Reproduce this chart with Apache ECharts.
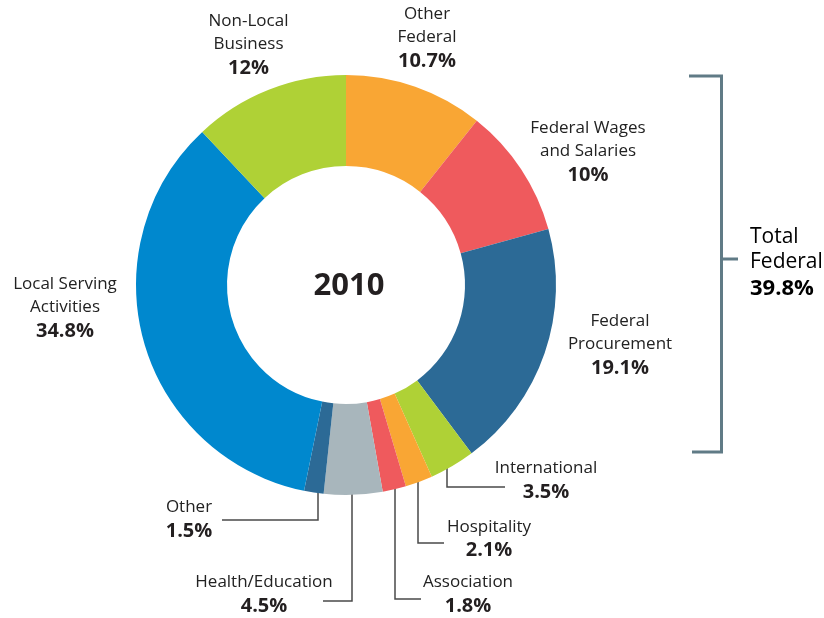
<!DOCTYPE html>
<html>
<head>
<meta charset="utf-8">
<script src="https://cdn.jsdelivr.net/npm/echarts@6/dist/echarts.min.js"></script>
<style>
  html, body { margin: 0; padding: 0; background: #fff; }
  #chart { width: 824px; height: 618px; }
</style>
</head>
<body>
<div id="chart"></div>
<script>
// categories clockwise from 12 o'clock
var names = [
  "Other\nFederal",
  "Federal Wages\nand Salaries",
  "Federal\nProcurement",
  "International",
  "Hospitality",
  "Association",
  "Health/Education",
  "Other",
  "Local Serving\nActivities",
  "Non-Local\nBusiness"
];
var shares = [10.7, 10, 19.1, 3.5, 2.1, 1.8, 4.5, 1.5, 34.8, 12];
var colors = ["#F9A634", "#EF5A5D", "#2C6A96", "#AFD136", "#F9A634", "#EF5A5D", "#A8B6BC", "#2C6A96", "#0088CE", "#AFD136"];
var yearLabel = "2010";
var totalName = ["Total", "Federal"];
var totalShare = 39.8;

// label placement (centre x, centre y) and leader lines, by slice index
var labelPos = [
  [427, 37.5], [588, 151.5], [620, 344.5], [546, 480.5], [489, 539],
  [468, 594.5], [264, 594.5], [189, 519.5], [65, 307.5], [248.5, 44.5]
];
var leaders = {
  3: [[447, 455], [447, 487], [505, 487]],
  4: [[418, 467], [418, 543], [444, 543]],
  5: [[395, 477], [395, 599], [421, 599]],
  6: [[352, 479], [352, 601], [323, 601]],
  7: [[318, 477], [318, 520], [222, 520]]
};

var chartDom = document.getElementById("chart");
var myChart = echarts.init(chartDom);
var font = "'Open Sans', 'Liberation Sans', sans-serif";

var data = shares.map(function (v, i) {
  return {
    value: v,
    name: names[i],
    itemStyle: { color: colors[i] },
    labelLine: { show: !!leaders[i] }
  };
});

var option = {
  animation: false,
  backgroundColor: "#fff",
  graphic: [
    {
      type: "text",
      style: {
        x: 349,
        y: 286,
        text: yearLabel,
        textAlign: "center",
        textVerticalAlign: "middle",
        font: "bold 31px " + font,
        fill: "#231F20"
      }
    },
    {
      type: "polyline",
      shape: { points: [[689, 76], [721.5, 76], [721.5, 452], [692, 452]] },
      style: { stroke: "#607B86", lineWidth: 3, fill: null }
    },
    {
      type: "line",
      shape: { x1: 721.5, y1: 259, x2: 738, y2: 259 },
      style: { stroke: "#607B86", lineWidth: 3 }
    },
    {
      type: "text",
      left: 750,
      top: 227,
      style: {
        text: "{n|" + totalName[0] + "}\n{n|" + totalName[1] + "}\n{v|" + totalShare + "%}",
        rich: {
          n: { fontSize: 21, fontFamily: font, lineHeight: 25, color: "#222" },
          v: { fontSize: 22, fontFamily: font, fontWeight: "bold", lineHeight: 27, color: "#231F20" }
        }
      }
    }
  ],
  series: [
    {
      type: "pie",
      center: [346, 285],
      radius: [119, 210],
      startAngle: 90,
      clockwise: true,
      avoidLabelOverlap: false,
      itemStyle: { borderWidth: 0 },
      emphasis: { disabled: true },
      label: {
        show: true,
        position: "outside",
        formatter: function (p) {
          var lines = p.name.split("\n").map(function (s) { return "{n|" + s + "}"; });
          return lines.join("\n") + "\n{v|" + p.value + "%}";
        },
        rich: {
          n: { fontSize: 17, fontFamily: font, lineHeight: 23.5, color: "#222", align: "center" },
          v: { fontSize: 20, fontFamily: font, fontWeight: "bold", lineHeight: 24, color: "#231F20", align: "center" }
        }
      },
      labelLine: {
        show: true,
        lineStyle: { color: "#4a4a4a", width: 1.5 }
      },
      labelLayout: function (params) {
        var i = params.dataIndex;
        var out = {
          x: labelPos[i][0],
          y: labelPos[i][1],
          align: "center",
          verticalAlign: "middle"
        };
        if (leaders[i]) out.labelLinePoints = leaders[i];
        return out;
      },
      data: data
    }
  ]
};

option && myChart.setOption(option);
</script>
</body>
</html>
